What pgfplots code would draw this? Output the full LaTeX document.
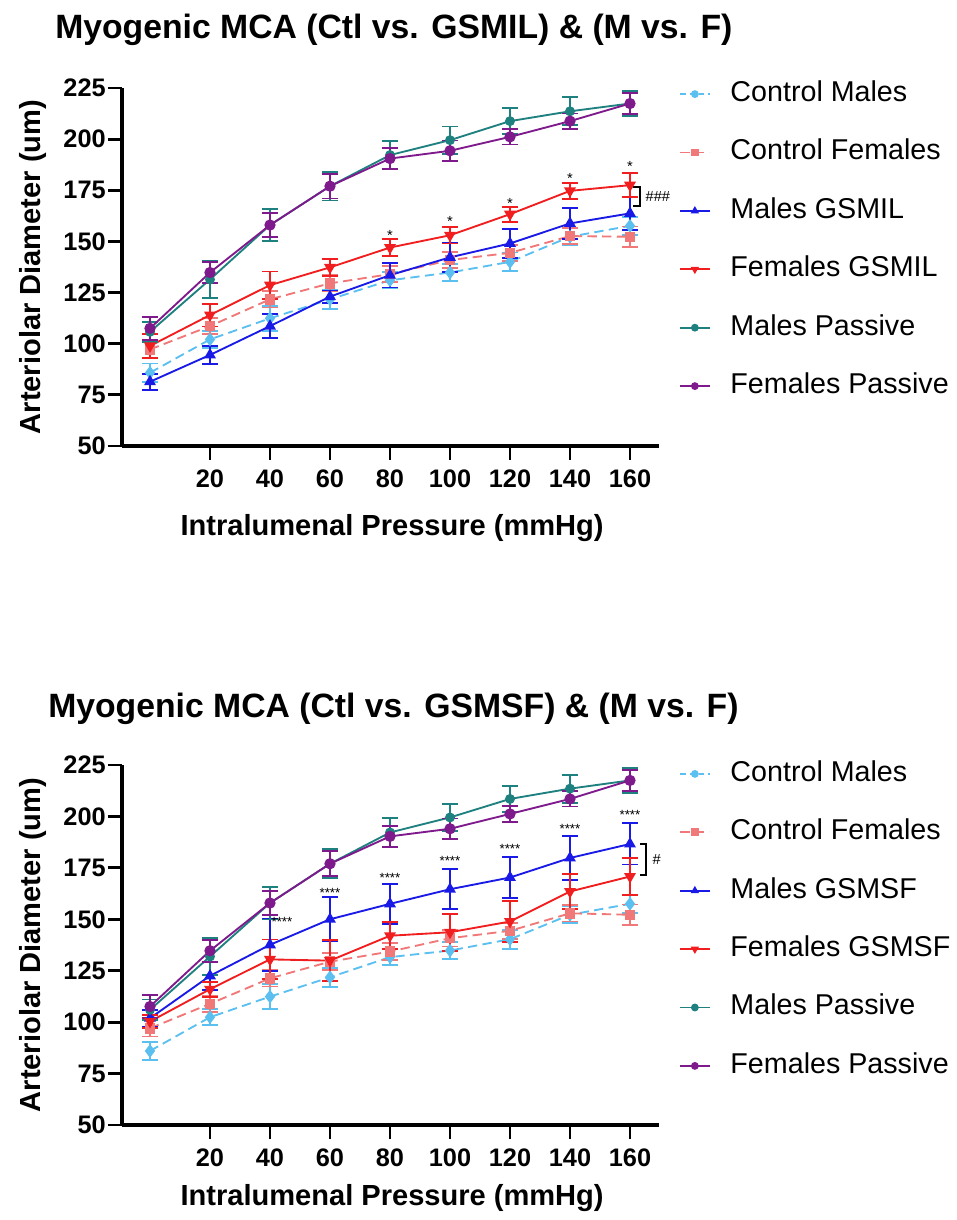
\documentclass[border=0pt]{standalone}
\usepackage{fontspec}
\setmainfont{Liberation Sans}
\usepackage{pgfplots}
\usepackage{pgfplotstable}
\pgfplotsset{compat=1.18}

\definecolor{cmc}{HTML}{5BC0F0}
\definecolor{cfc}{HTML}{F07878}
\definecolor{mgc}{HTML}{1A1AE6}
\definecolor{fgc}{HTML}{F01E1E}
\definecolor{mpc}{HTML}{1F8080}
\definecolor{fpc}{HTML}{7F1A8C}

\pgfplotstableread{
x   cm    cme  cf    cfe  mg    mge  fg    fge  mp    mpe  fp    fpe
0   85.8  4.5  97.2  4.0  81.4  4.0  98.9  6.0  105.8 5.0  107.5 5.7
20  102.1 4.0  108.6 4.0  94.5  4.5  114.0 5.6  131.4 9.0  134.8 5.3
40  112.4 6.0  121.7 4.0  108.6 6.0  128.6 6.7  158.0 8.0  158.0 5.7
60  121.7 4.7  129.5 4.0  123.0 3.0  137.3 4.2  177.0 7.0  177.0 6.0
80  131.0 4.0  134.0 4.0  133.5 6.0  147.0 4.0  192.2 7.0  190.5 5.0
100 134.8 4.2  140.9 4.0  142.2 7.0  153.0 4.0  199.5 6.7  194.3 5.0
120 140.0 4.6  144.4 4.0  149.0 7.0  163.3 3.7  208.8 6.5  201.1 3.7
140 152.3 4.0  152.6 4.0  158.8 7.6  174.7 3.8  213.6 6.8  208.8 3.7
160 157.6 4.5  152.3 5.0  163.7 8.0  177.5 6.0  217.4 6.0  217.4 5.0
}\topdata

\pgfplotstableread{
x   cm    cme  cf    cfe  ms    mse   fs    fse  mp    mpe  fp    fpe
0   86.0  4.5  97.0  4.0  101.9 4.0   100.3 3.0  106.0 5.0  107.6 5.7
20  102.4 4.0  108.9 4.0  122.5 6.7   116.0 3.7  131.9 9.0  134.7 5.3
40  112.4 6.0  121.3 4.0  137.6 12.6  130.5 9.7  157.9 8.0  157.9 5.7
60  121.8 4.7  129.4 4.0  150.0 10.7  129.9 10.0 177.0 7.0  177.0 6.0
80  131.6 4.0  134.3 4.0  157.5 9.6   142.0 6.5  192.2 7.0  190.3 5.0
100 134.8 4.2  140.8 4.0  164.6 9.8   143.7 9.0  199.5 6.7  194.0 5.0
120 140.3 4.6  144.4 4.0  170.3 9.8   148.9 10.0 208.5 6.5  201.2 3.7
140 152.2 4.0  152.9 4.0  179.8 10.5  163.5 8.5  213.5 6.8  208.5 3.7
160 157.5 4.5  152.2 5.0  186.6 10.0  170.8 9.0  217.5 6.0  217.5 5.0
}\botdata

\tikzset{ann/.style={font=\fontsize{11}{11}\selectfont, inner sep=0pt},
  ann4/.style={font=\fontsize{10}{10}\selectfont, inner sep=0pt}}

\pgfplotsset{
  myaxis/.style={
    scale only axis, width=402.75pt,
    xmin=-9.33, xmax=169.67, ymin=50, ymax=225,
    axis x line*=bottom, axis y line*=left,
    axis line style={line width=2.5pt},
    tick align=outside, major tick length=10.5pt,
    every tick/.style={black, line width=2.2pt},
    xtick={20,40,...,160}, ytick={50,75,...,225},
    /pgf/number format/assume math mode=true,
    tick label style={font=\bfseries\fontsize{19}{19}\selectfont},
    xticklabel style={yshift=-4pt},
    yticklabel style={inner sep=1.5pt},
    label style={font=\bfseries\fontsize{21.8}{21.8}\selectfont},
    xlabel={Intralumenal Pressure (mmHg)},
    ylabel={Arteriolar Diameter (um)},
    ylabel style={at={(axis description cs:-0.1657,0.5)}, anchor=center},
    clip=false,
    legend cell align=left,
    legend image code/.code={\draw[mark repeat=2,mark phase=2,#1,mark size=2.2pt] plot coordinates {(0pt,0pt) (11pt,0pt) (22pt,0pt)};},
    legend style={draw=none, fill=none, anchor=north west,
      font=\fontsize{21.5}{21.5}\selectfont,
      row sep=18.8pt,
      nodes={inner sep=2pt, text height=16pt, text depth=5pt},
      /tikz/every odd column/.append style={column sep=13pt}},
  },
  eb/.style={error bars/y dir=both, error bars/y explicit,
    error bars/error bar style={line width=1.4pt, solid},
    error bars/error mark options={rotate=90, mark size=6pt, line width=1.4pt, solid}},
  scm/.style={color=cmc, line width=1.4pt, dash pattern=on 7pt off 4pt, mark=diamond*, mark size=4pt, mark options={solid}, eb},
  scmleg/.style={color=cmc, line width=1.4pt, dash pattern=on 4pt off 3pt, mark=*, mark options={solid}},
  scf/.style={color=cfc, line width=1.4pt, dash pattern=on 7pt off 4pt, mark=square*, mark size=3.2pt, mark options={solid}, eb},
  smg/.style={color=mgc, line width=1.4pt, solid, mark=triangle*, mark size=3.8pt, eb},
  sfg/.style={color=fgc, line width=1.4pt, solid, mark=triangle*, mark size=3.8pt, mark options={rotate=180}, eb},
  smp/.style={color=mpc, line width=1.4pt, solid, mark=*, mark size=3pt, eb},
  sfp/.style={color=fpc, line width=1.4pt, solid, mark=*, mark size=3.5pt, eb},
}

\begin{document}
\begin{tikzpicture}
\path (0,0) rectangle (717pt,915pt);

\node[anchor=base west, inner sep=0pt, font=\bfseries\fontsize{25.3}{25.3}\selectfont] at (41.25pt,886pt) {Myogenic MCA (Ctl vs. GSMIL) \& (M vs. F)};
\node[anchor=base west, inner sep=0pt, font=\bfseries\fontsize{25.3}{25.3}\selectfont] at (36pt,377pt) {Myogenic MCA (Ctl vs. GSMSF) \& (M vs. F)};

\begin{axis}[myaxis, at={(91.5pt,580.5pt)}, anchor=south west, height=268.5pt,
  xlabel style={at={(axis description cs:0.503,-0.229)}, anchor=center},
  legend style={at={(axis description cs:1.0298,1.0377)}}]
\addlegendimage{scmleg}
\addlegendentry{Control Males}
\addplot[forget plot, scm] table[x=x,y=cm,y error=cme] {\topdata};
\addplot[scf] table[x=x,y=cf,y error=cfe] {\topdata};
\addlegendentry{Control Females}
\addplot[smg] table[x=x,y=mg,y error=mge] {\topdata};
\addlegendentry{Males GSMIL}
\addplot[sfg] table[x=x,y=fg,y error=fge] {\topdata};
\addlegendentry{Females GSMIL}
\addplot[smp] table[x=x,y=mp,y error=mpe] {\topdata};
\addlegendentry{Males Passive}
\addplot[sfp] table[x=x,y=fp,y error=fpe] {\topdata};
\addlegendentry{Females Passive}
\node[ann] at (axis cs:80,153) {*};
\node[ann] at (axis cs:100,159.6) {*};
\node[ann] at (axis cs:120,168.6) {*};
\node[ann] at (axis cs:140,181) {*};
\node[ann] at (axis cs:160,186.4) {*};
\draw[line width=1.5pt] (axis cs:161,176.7) -- (axis cs:163.3,176.7) -- (axis cs:163.3,167.2) -- (axis cs:161,167.2);
\node[ann] at (axis cs:169.3,172) {\#\#\#};
\end{axis}

\begin{axis}[myaxis, at={(91.5pt,71.25pt)}, anchor=south west, height=270pt,
  xlabel style={at={(axis description cs:0.503,-0.203)}, anchor=center},
  legend style={at={(axis description cs:1.0298,1.0297)}}]
\addlegendimage{scmleg}
\addlegendentry{Control Males}
\addplot[forget plot, scm] table[x=x,y=cm,y error=cme] {\botdata};
\addplot[scf] table[x=x,y=cf,y error=cfe] {\botdata};
\addlegendentry{Control Females}
\addplot[smg] table[x=x,y=ms,y error=mse] {\botdata};
\addlegendentry{Males GSMSF}
\addplot[sfg] table[x=x,y=fs,y error=fse] {\botdata};
\addlegendentry{Females GSMSF}
\addplot[smp] table[x=x,y=mp,y error=mpe] {\botdata};
\addlegendentry{Males Passive}
\addplot[sfp] table[x=x,y=fp,y error=fpe] {\botdata};
\addlegendentry{Females Passive}
\node[ann4] at (axis cs:44,148.5) {****};
\node[ann4] at (axis cs:60,163) {****};
\node[ann4] at (axis cs:80,170) {****};
\node[ann4] at (axis cs:100,178.5) {****};
\node[ann4] at (axis cs:120,184.2) {****};
\node[ann4] at (axis cs:140,193.9) {****};
\node[ann4] at (axis cs:160,200.5) {****};
\draw[line width=1.5pt] (axis cs:163.3,186.7) -- (axis cs:165.2,186.7) -- (axis cs:165.2,171.7) -- (axis cs:163.3,171.7);
\node[ann] at (axis cs:168.9,179) {\#};
\end{axis}
\end{tikzpicture}
\end{document}
